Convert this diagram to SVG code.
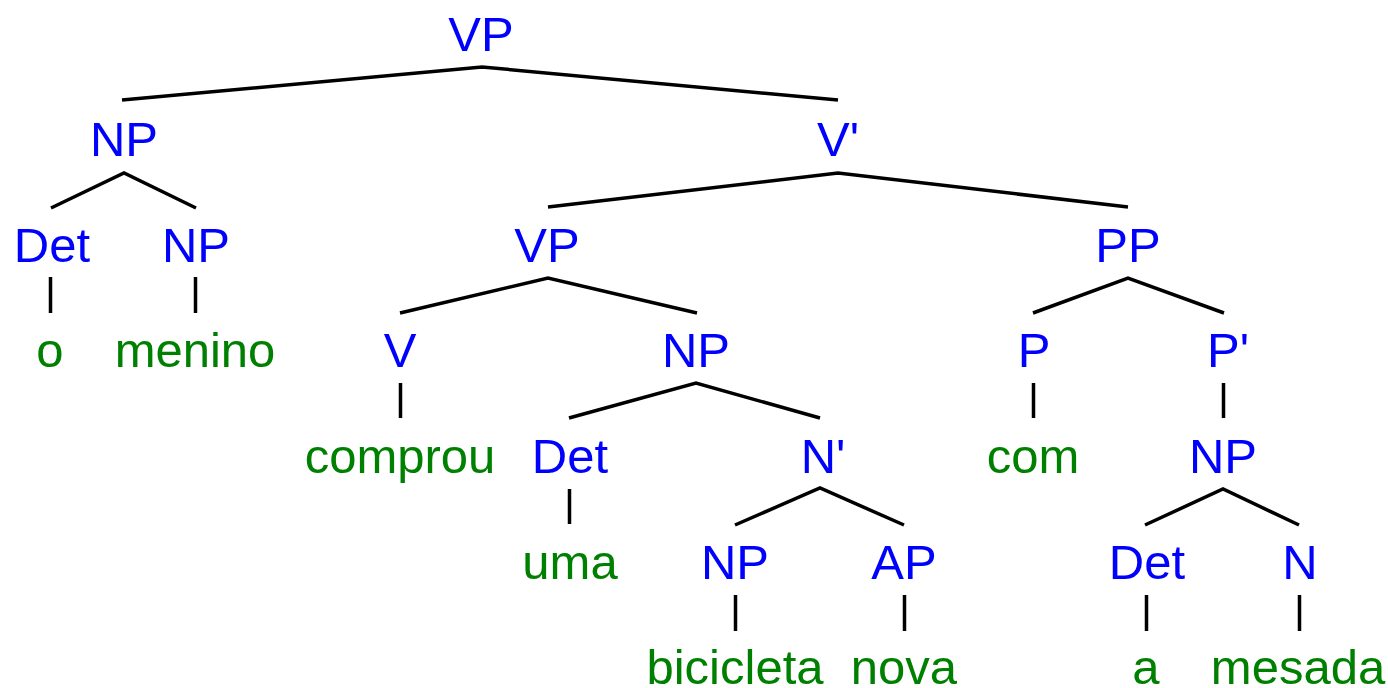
<svg xmlns="http://www.w3.org/2000/svg" width="1388" height="688" viewBox="0 0 1388 688">
<style>
text{font-family:"Liberation Sans",Arial,sans-serif;font-size:49px;text-anchor:middle}
.n{fill:#0000ff}
.w{fill:#008000}
#edges line,#edges polyline{stroke:#000;stroke-width:3.5;fill:none}
</style>
<rect width="1388" height="688" fill="#fff"/>
<g id="edges">
<polyline points="122,100 482,67 838,100"/>
<polyline points="51,208 124,173 196,208"/>
<line x1="50.5" y1="277" x2="50.5" y2="313"/>
<line x1="195.5" y1="277" x2="195.5" y2="313"/>
<polyline points="548,207 838,173 1128,207"/>
<polyline points="400,313 548,278 697,313"/>
<polyline points="1033,313 1128,278 1224,313"/>
<line x1="400.5" y1="383" x2="400.5" y2="418"/>
<polyline points="569,418 696,383 820,418"/>
<line x1="1033.5" y1="383" x2="1033.5" y2="418"/>
<line x1="1223.5" y1="383" x2="1223.5" y2="418"/>
<line x1="569.5" y1="489" x2="569.5" y2="524"/>
<polyline points="735,525 820,488 904,525"/>
<polyline points="1145,525 1223,489 1299,525"/>
<line x1="735.5" y1="595" x2="735.5" y2="631"/>
<line x1="904.5" y1="595" x2="904.5" y2="631"/>
<line x1="1146.5" y1="595" x2="1146.5" y2="631"/>
<line x1="1299.5" y1="595" x2="1299.5" y2="631"/>
</g>
<g id="n-vp"><text class="n" x="481" y="51">VP</text></g>
<g id="n-np1"><text class="n" x="124" y="156">NP</text></g>
<g id="n-vbar"><text class="n" x="838" y="156">V'</text></g>
<g id="n-det1"><text class="n" x="52" y="262">Det</text></g>
<g id="n-np2"><text class="n" x="196" y="262">NP</text></g>
<g id="w-o"><text class="w" x="50" y="367">o</text></g>
<g id="w-menino"><text class="w" x="195" y="367">menino</text></g>
<g id="n-vp2"><text class="n" x="547" y="262">VP</text></g>
<g id="n-pp"><text class="n" x="1128" y="262">PP</text></g>
<g id="n-v"><text class="n" x="400" y="367">V</text></g>
<g id="n-np3"><text class="n" x="696" y="367">NP</text></g>
<g id="n-p"><text class="n" x="1034" y="367">P</text></g>
<g id="n-pbar"><text class="n" x="1228" y="367">P'</text></g>
<g id="w-comprou"><text class="w" x="400" y="473">comprou</text></g>
<g id="n-det2"><text class="n" x="570" y="473">Det</text></g>
<g id="n-nbar"><text class="n" x="823" y="473">N'</text></g>
<g id="w-com"><text class="w" x="1033" y="473">com</text></g>
<g id="n-np4"><text class="n" x="1223" y="473">NP</text></g>
<g id="w-uma"><text class="w" x="570" y="579">uma</text></g>
<g id="n-np5"><text class="n" x="735" y="579">NP</text></g>
<g id="n-ap"><text class="n" x="904" y="579">AP</text></g>
<g id="n-det3"><text class="n" x="1147" y="579">Det</text></g>
<g id="n-n"><text class="n" x="1300" y="579">N</text></g>
<g id="w-bicicleta"><text class="w" x="735" y="684">bicicleta</text></g>
<g id="w-nova"><text class="w" x="904" y="684">nova</text></g>
<g id="w-a"><text class="w" x="1146" y="684">a</text></g>
<g id="w-mesada"><text class="w" x="1298" y="684">mesada</text></g>
</svg>
